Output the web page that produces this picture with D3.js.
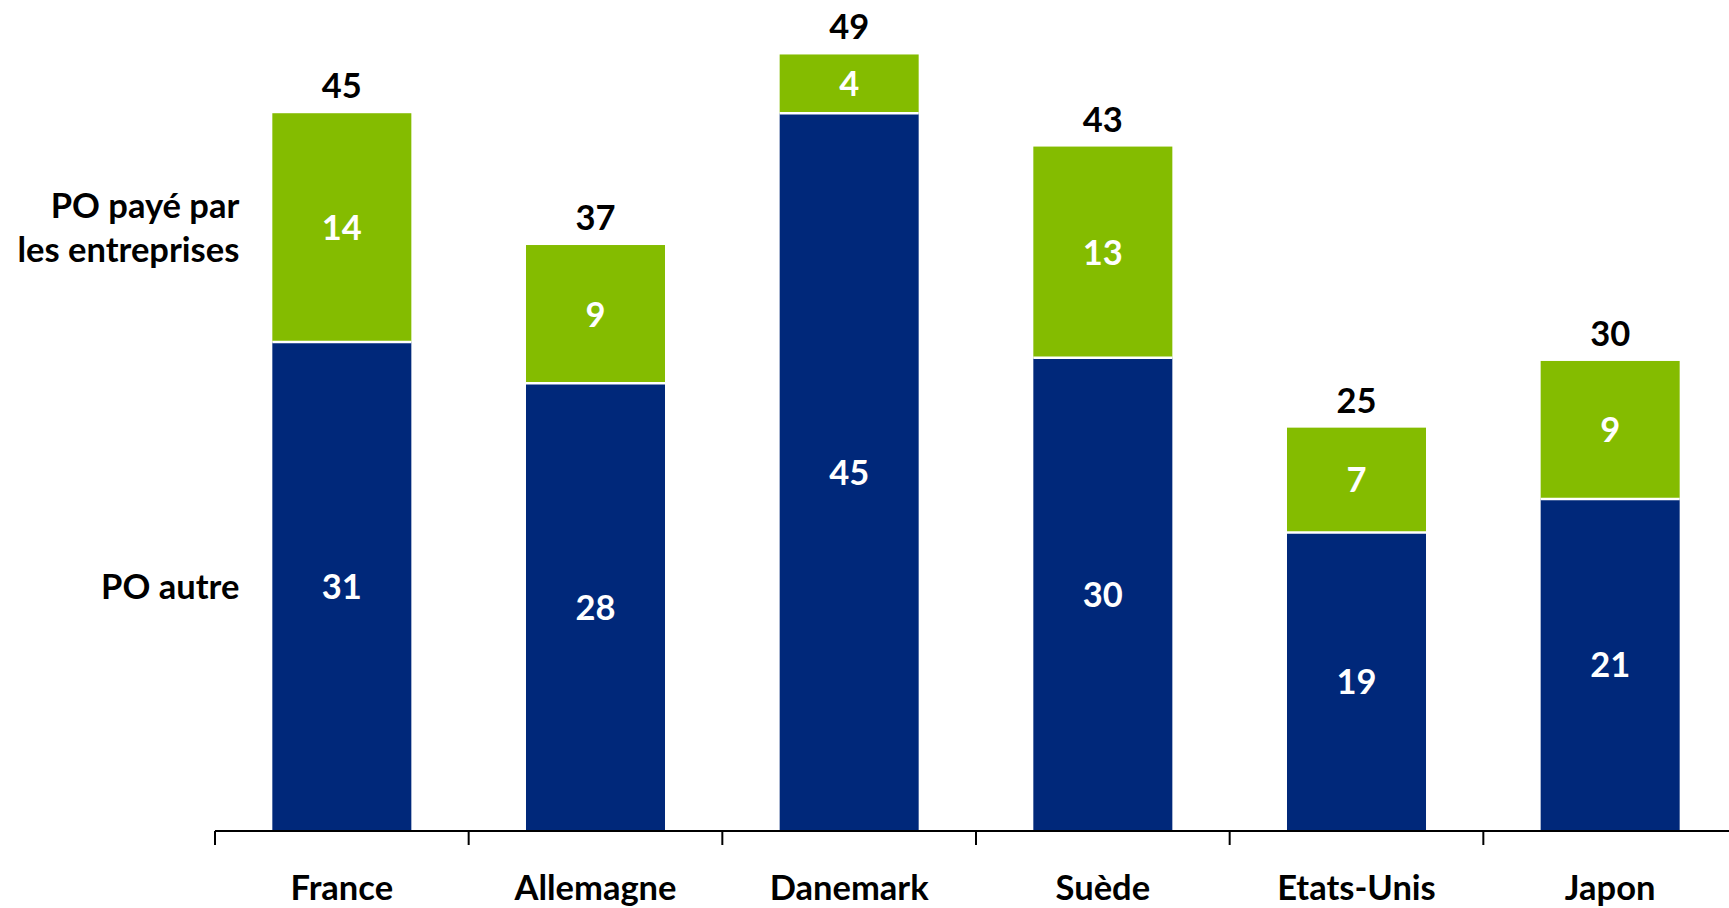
<!DOCTYPE html>
<html>
<head>
<meta charset="utf-8">
<script src="https://cdn.jsdelivr.net/npm/d3@7"></script>
<style>
  html, body { margin: 0; padding: 0; background: #ffffff; }
  svg { display: block; }
  text { font-family: Lato, "Open Sans", sans-serif; font-weight: 700; }
</style>
</head>
<body>
<svg id="chart" width="1729" height="908"></svg>
<script>
// Countries along the horizontal axis
const categories = ["France", "Allemagne", "Danemark", "Suède", "Etats-Unis", "Japon"];
// Lower segment: other compulsory levies
const poAutre = [30.8, 28.2, 45.2, 29.8, 18.8, 20.9];
// Upper segment: levies paid by companies
const poEntreprises = [14.4, 8.7, 3.7, 13.3, 6.6, 8.7];
// Series names shown at the left of the first bar
const seriesLabels = [["PO autre"], ["PO payé par", "les entreprises"]];
const seriesColors = ["#00287A", "#84BC00"];

const svg = d3.select("#chart");
const fontSize = 34.5;

const baseY = 831;
const x = d3.scaleBand()
  .domain(categories)
  .range([215, 1737])
  .paddingInner(0.452)
  .paddingOuter(0.226);

const y = d3.scaleLinear().domain([0, 50]).range([baseY, baseY - 50 * 15.88]);

const rows = categories.map((c, i) => ({ cat: c, autre: poAutre[i], entreprises: poEntreprises[i] }));
const series = d3.stack().keys(["autre", "entreprises"])(rows);
const fmt = d3.format(".0f");

// Stacked segments
const layers = svg.append("g").selectAll("g")
  .data(series)
  .join("g")
  .attr("fill", (d, i) => seriesColors[i]);

layers.selectAll("rect")
  .data(d => d)
  .join("rect")
  .attr("x", d => x(d.data.cat))
  .attr("width", x.bandwidth())
  .attr("y", d => y(d[1]))
  .attr("height", d => y(d[0]) - y(d[1]));

// Thin white separators between stacked segments
series.slice(1).forEach(s => {
  svg.append("g").selectAll("line")
    .data(s)
    .join("line")
    .attr("x1", d => x(d.data.cat))
    .attr("x2", d => x(d.data.cat) + x.bandwidth())
    .attr("y1", d => y(d[0]))
    .attr("y2", d => y(d[0]))
    .attr("stroke", "#ffffff")
    .attr("stroke-width", 2.5);
});

// Values inside the segments
layers.selectAll("text")
  .data(d => d)
  .join("text")
  .attr("x", d => x(d.data.cat) + x.bandwidth() / 2)
  .attr("y", d => (y(d[0]) + y(d[1])) / 2)
  .attr("dy", "0.36em")
  .attr("text-anchor", "middle")
  .attr("fill", "#ffffff")
  .attr("font-size", fontSize)
  .text(d => fmt(d[1] - d[0]));

// Totals above the bars
const topLayer = series[series.length - 1];
svg.append("g").selectAll("text")
  .data(topLayer)
  .join("text")
  .attr("x", d => x(d.data.cat) + x.bandwidth() / 2)
  .attr("y", d => y(d[1]) - 15)
  .attr("text-anchor", "middle")
  .attr("fill", "#000000")
  .attr("font-size", fontSize)
  .text(d => fmt(d[1]));

// Series names beside the first bar, centred on its segments
const first = categories[0];
series.forEach((s, i) => {
  const seg = s[0];
  const mid = (y(seg[0]) + y(seg[1])) / 2;
  const lines = seriesLabels[i];
  const lh = 44;
  const t = svg.append("text")
    .attr("text-anchor", "end")
    .attr("font-size", fontSize)
    .attr("fill", "#000000");
  lines.forEach((ln, k) => {
    t.append("tspan")
      .attr("x", x(first) - 33)
      .attr("y", mid + (k - (lines.length - 1) / 2) * lh)
      .attr("dy", "0.36em")
      .text(ln);
  });
});

// Category axis with ticks at the boundaries between countries
const axis = svg.append("g");
const gap = x.step() * x.paddingInner() / 2;
axis.append("line")
  .attr("x1", x.range()[0]).attr("x2", x.range()[1])
  .attr("y1", baseY).attr("y2", baseY)
  .attr("stroke", "#000000").attr("stroke-width", 2);
axis.selectAll("line.tick")
  .data(categories)
  .join("line")
  .attr("class", "tick")
  .attr("x1", d => x(d) - gap)
  .attr("x2", d => x(d) - gap)
  .attr("y1", baseY)
  .attr("y2", baseY + 14)
  .attr("stroke", "#000000").attr("stroke-width", 2);
axis.selectAll("text.cat")
  .data(categories)
  .join("text")
  .attr("class", "cat")
  .attr("x", d => x(d) + x.bandwidth() / 2)
  .attr("y", 900)
  .attr("text-anchor", "middle")
  .attr("font-size", fontSize)
  .attr("fill", "#000000")
  .text(d => d);
</script>
</body>
</html>
